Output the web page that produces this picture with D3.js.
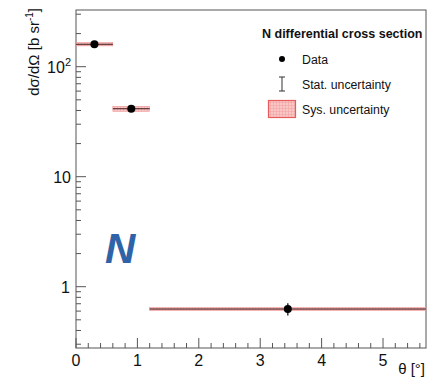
<!DOCTYPE html>
<html>
<head>
<meta charset="utf-8">
<script src="https://cdn.jsdelivr.net/npm/d3@7"></script>
<style>
  html, body { margin: 0; padding: 0; background: #fff; }
  svg { display: block; font-family: "Liberation Sans", Arial, sans-serif; }
</style>
</head>
<body>
<svg id="chart" width="427" height="387"></svg>
<script>
// Bin edges in theta [deg]
const binLow  = [0.0, 0.6, 1.2];
const binHigh = [0.6, 1.2, 5.7];
// Bin centres
const thetaCenter = [0.3, 0.9, 3.45];
// Differential cross section [b/sr]
const xsec = [160, 41.5, 0.627];
// Statistical uncertainty (absolute)
const statErr = [5, 1.2, 0.08];
// Systematic uncertainty (absolute)
const sysErr = [5.5, 2.2, 0.02];
const xTicks = [0, 1, 2, 3, 4, 5];
const yTicks = [1, 10, 100];

const svg = d3.select("#chart");
const frame = { left: 76, right: 426, top: 10, bottom: 348 };

const x = d3.scaleLinear().domain([0, 5.7]).range([frame.left, frame.right]);
// log axis: one decade spans 110 px, y=1 at 286.7
const decade = 110, y1px = 286.7;
const yMin = Math.pow(10, -(frame.bottom - y1px) / decade);
const yMax = Math.pow(10, (y1px - frame.top) / decade);
const y = d3.scaleLog().domain([yMin, yMax]).range([frame.bottom, frame.top]);

const axisCol = "#555";

// Fine grid pattern used for the systematic-uncertainty fill
const defs = svg.append("defs");
const pat = defs.append("pattern").attr("id", "sysFill")
  .attr("patternUnits", "userSpaceOnUse").attr("width", 3).attr("height", 3);
pat.append("rect").attr("width", 3).attr("height", 3).attr("fill", "#f9c6c6");
pat.append("path").attr("d", "M0,0.5H3M0.5,0V3").attr("stroke", "#f3a2a2").attr("stroke-width", 0.6);

// Frame
svg.append("rect")
  .attr("x", frame.left).attr("y", frame.top)
  .attr("width", frame.right - frame.left).attr("height", frame.bottom - frame.top)
  .attr("fill", "none").attr("stroke", axisCol).attr("stroke-width", 1);

// X axis ticks (drawn inward)
const xMinor = d3.range(0, 5.7001, 0.2);
svg.append("g").selectAll("line").data(xMinor).join("line")
  .attr("x1", d => x(d)).attr("x2", d => x(d))
  .attr("y1", frame.bottom)
  .attr("y2", d => Math.abs(d - Math.round(d)) < 1e-6 ? frame.bottom - 10 : frame.bottom - 5)
  .attr("stroke", axisCol).attr("stroke-width", 1);
svg.append("g").selectAll("text").data(xTicks).join("text")
  .attr("x", d => x(d)).attr("y", 366)
  .attr("text-anchor", "middle").attr("font-size", 16).attr("fill", "#111")
  .text(d => d);

// Y axis ticks (log, inward)
const yMinorVals = [];
for (let e = -1; e <= 2; e++) for (let m = 1; m <= 9; m++) {
  const v = m * Math.pow(10, e);
  if (v >= yMin && v <= yMax) yMinorVals.push(v);
}
svg.append("g").selectAll("line").data(yMinorVals).join("line")
  .attr("y1", d => y(d)).attr("y2", d => y(d))
  .attr("x1", frame.left)
  .attr("x2", d => yTicks.includes(d) ? frame.left + 10 : frame.left + 5)
  .attr("stroke", axisCol).attr("stroke-width", 1);

const yl = svg.append("g").attr("font-size", 16).attr("fill", "#111");
yl.append("text").attr("x", 70).attr("y", y(1) + 6).attr("text-anchor", "end").text("1");
yl.append("text").attr("x", 71).attr("y", y(10) + 6).attr("text-anchor", "end").text("10");
const t100 = yl.append("text").attr("x", 71).attr("y", y(100) + 6).attr("text-anchor", "end");
t100.append("tspan").text("10");
t100.append("tspan").attr("font-size", 11).attr("dy", -7).text("2");

// Axis titles
svg.append("text")
  .attr("transform", "translate(39,8) rotate(-90)")
  .attr("text-anchor", "end").attr("font-size", 15).attr("fill", "#111")
  .call(t => {
    t.append("tspan").text("dσ/dΩ [b sr");
    t.append("tspan").attr("font-size", 10).attr("dy", -6).text("-1");
    t.append("tspan").attr("dy", 6).text("]");
  });
svg.append("text").attr("x", 425).attr("y", 374)
  .attr("text-anchor", "end").attr("font-size", 15).attr("fill", "#111")
  .text("θ [°]");

const idx = d3.range(xsec.length);
const plot = svg.append("g");

// Systematic uncertainty boxes
plot.selectAll("rect.sys").data(idx).join("rect").attr("class", "sys")
  .attr("x", i => x(binLow[i]))
  .attr("width", i => x(Math.min(binHigh[i], 5.7)) - x(binLow[i]))
  .attr("y", i => y(xsec[i] + sysErr[i]))
  .attr("height", i => y(xsec[i] - sysErr[i]) - y(xsec[i] + sysErr[i]))
  .attr("fill", "url(#sysFill)")
  .attr("stroke", "#ee8a8a").attr("stroke-width", 0.5);

// Horizontal bin-width bars
plot.selectAll("line.xerr").data(idx).join("line").attr("class", "xerr")
  .attr("x1", i => x(binLow[i])).attr("x2", i => x(Math.min(binHigh[i], 5.7)))
  .attr("y1", i => y(xsec[i])).attr("y2", i => y(xsec[i]))
  .attr("stroke", "#3a1a1a").attr("stroke-width", 1.1);

// Statistical error bars
plot.selectAll("line.stat").data(idx).join("line").attr("class", "stat")
  .attr("x1", i => x(thetaCenter[i])).attr("x2", i => x(thetaCenter[i]))
  .attr("y1", i => y(xsec[i] - statErr[i])).attr("y2", i => y(xsec[i] + statErr[i]))
  .attr("stroke", "#000").attr("stroke-width", 1.2);

// Data markers
plot.selectAll("circle").data(idx).join("circle")
  .attr("cx", i => x(thetaCenter[i])).attr("cy", i => y(xsec[i]))
  .attr("r", 4).attr("fill", "#000");

// Legend
const lg = svg.append("g").attr("font-size", 12.3).attr("fill", "#111");
lg.append("text").attr("x", 262).attr("y", 37.5).attr("font-weight", "bold")
  .attr("font-size", 12.5).text("N differential cross section");
lg.append("circle").attr("cx", 282).attr("cy", 59).attr("r", 3).attr("fill", "#000");
lg.append("text").attr("x", 302).attr("y", 63.5).text("Data");
lg.append("line").attr("x1", 282).attr("x2", 282).attr("y1", 77).attr("y2", 91).attr("stroke", "#333");
lg.append("line").attr("x1", 279).attr("x2", 285).attr("y1", 77).attr("y2", 77).attr("stroke", "#333");
lg.append("line").attr("x1", 279).attr("x2", 285).attr("y1", 91).attr("y2", 91).attr("stroke", "#333");
lg.append("text").attr("x", 302).attr("y", 88.5).text("Stat. uncertainty");
lg.append("rect").attr("x", 268.5).attr("y", 100.5).attr("width", 27).attr("height", 17)
  .attr("fill", "url(#sysFill)").attr("stroke", "#e65c5c").attr("stroke-width", 1.2);
lg.append("text").attr("x", 302).attr("y", 114).text("Sys. uncertainty");

// Nucleus label
svg.append("text").attr("x", 105).attr("y", 263)
  .attr("font-size", 42).attr("font-weight", "bold").attr("font-style", "italic")
  .attr("fill", "#2f63a8").text("N");
</script>
</body>
</html>
